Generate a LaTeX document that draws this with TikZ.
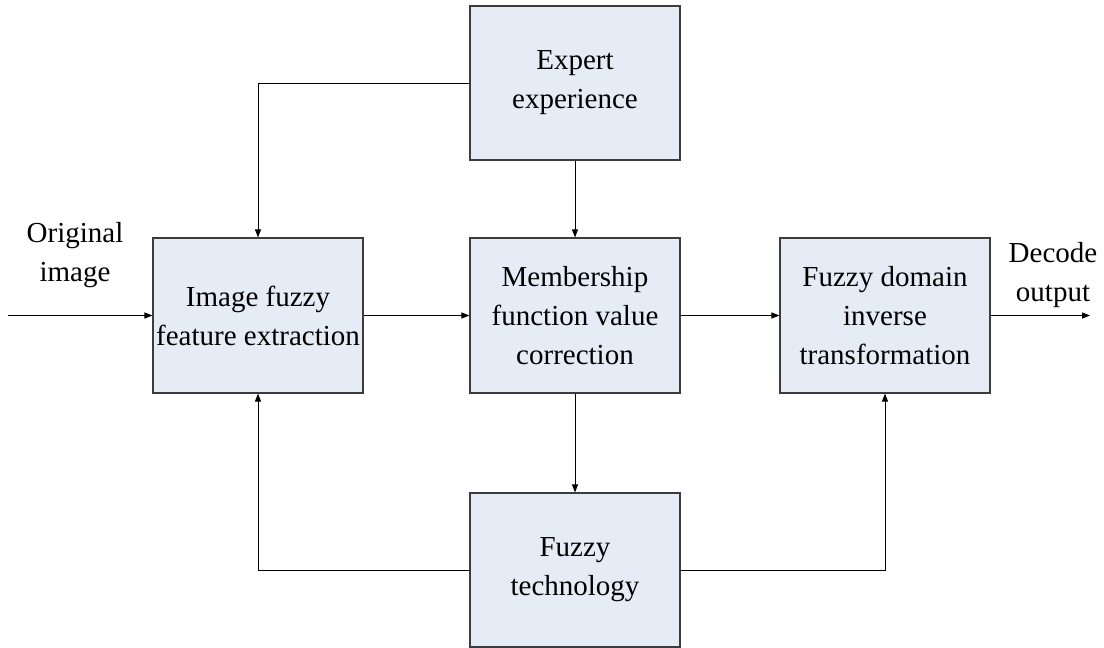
\documentclass[tikz,border=0pt]{standalone}
\usepackage{fontspec}
\setmainfont{Liberation Serif}
\usetikzlibrary{arrows.meta}
\definecolor{boxfill}{RGB}{230,236,246}
\definecolor{boxline}{RGB}{60,60,60}
\begin{document}
\begin{tikzpicture}[x=1pt,y=-1pt,
  block/.style={draw=boxline,line width=1.1pt,fill=boxfill,minimum width=210pt,minimum height=155pt,align=center,inner sep=0pt,font=\fontsize{29}{39}\selectfont},
  lbl/.style={align=center,inner sep=0pt,font=\fontsize{29}{39}\selectfont},
  conn/.style={line width=1pt,-{Triangle[length=8pt,width=6pt]}},
  plain/.style={line width=1pt}]
\useasboundingbox (0,0) rectangle (1104,648);
\node[block,minimum height=154pt] (expert) at (575,83) {Expert\\experience};
\node[block] (image) at (258,315.5) {Image fuzzy\\feature extraction};
\node[block] (member) at (575,315.5) {Membership\\function value\\correction};
\node[block] (domain) at (885,315.5) {Fuzzy domain\\inverse\\transformation};
\node[block,minimum height=154pt] (tech) at (575,570) {Fuzzy\\technology};
\node[lbl] (orig) at (75,255) {Original\\image};
\node[lbl] (decode) at (1053,275) {Decode\\output};
\coordinate (in) at (8,315.5);
\coordinate (out) at (1090,315.5);
\draw[conn] (in) -- (image.west);
\draw[conn] (image.east) -- (member.west);
\draw[conn] (member.east) -- (domain.west);
\draw[conn] (domain.east) -- (out);
\draw[conn] (expert.west) -| (image.north);
\draw[conn] (expert.south) -- (member.north);
\draw[conn] (member.south) -- (tech.north);
\draw[conn] (tech.west) -| (image.south);
\draw[conn] (tech.east) -| (domain.south);
\end{tikzpicture}
\end{document}
